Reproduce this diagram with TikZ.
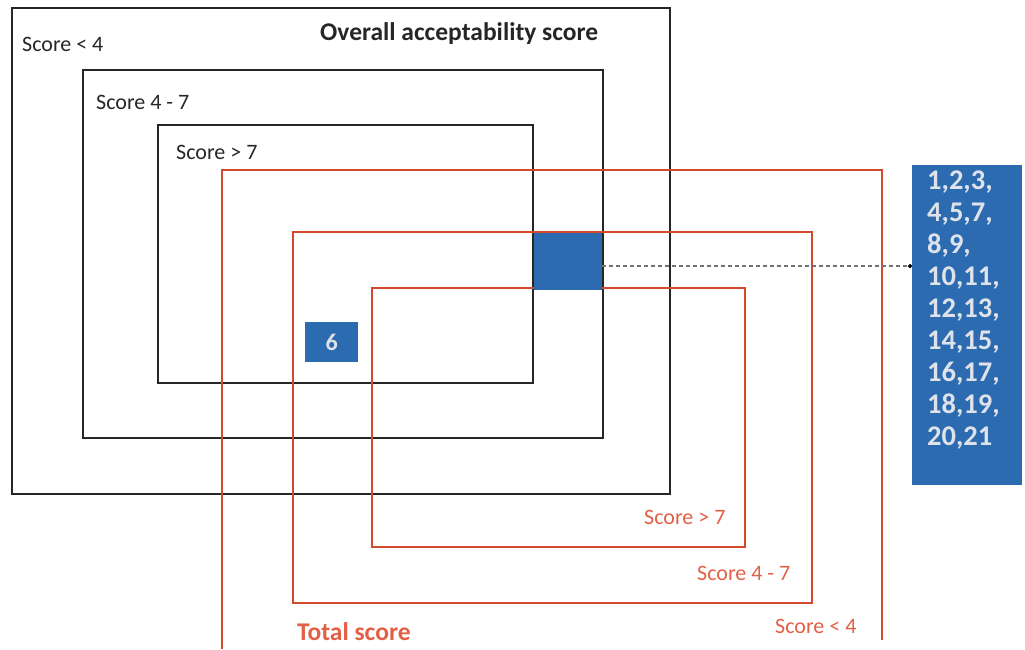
\documentclass[tikz,border=0pt]{standalone}
\usepackage{fontspec}
\setmainfont{Carlito}
\usetikzlibrary{arrows.meta}
\definecolor{frred}{RGB}{214,72,44}
\definecolor{lblred}{RGB}{226,96,70}
\definecolor{cellblue}{RGB}{44,107,176}
\definecolor{numgray}{RGB}{222,226,234}
\tikzset{
  blackframe/.style={draw=black!85, line width=1.8pt},
  redframe/.style={draw=frred, line width=1.6pt},
  blacklbl/.style={font=\fontsize{22}{24}\selectfont, text=black!85, inner sep=0pt},
  redlbl/.style={font=\fontsize{22}{24}\selectfont, text=lblred, inner sep=0pt},
  boldlbl/.style={font=\fontsize{25.5}{27}\selectfont\bfseries},
  bluecell/.style={fill=cellblue, draw=none, inner sep=0pt},
}
\begin{document}
\begin{tikzpicture}[x=1pt,y=-1pt]
\useasboundingbox (0,0) rectangle (1025,649);
% black frames
\draw[blackframe] (12,8) rectangle (670,494);
\draw[blackframe] (83,70) rectangle (603,438);
\draw[blackframe] (158,125) rectangle (533,383);
% red frames
\draw[redframe] (222,649) -- (222,170) -- (882,170) -- (882,640);
\draw[redframe] (293,232) rectangle (812,603);
\draw[redframe] (372,288) rectangle (745,547);
% blue cell
\node[bluecell, minimum width=68pt, minimum height=57pt, anchor=north west] (cell) at (534,233) {};
% six box
\node[bluecell, minimum width=53pt, minimum height=40pt, anchor=north west, text=numgray, font=\fontsize{24}{26}\selectfont\bfseries] (six) at (305,322) {6};
% list box
\node[bluecell, minimum width=110pt, minimum height=320pt, anchor=north west] (list) at (912,165) {};
\node[anchor=north west, inner sep=0pt, align=left, text=numgray, font=\fontsize{28.5}{32}\selectfont\bfseries] (nums) at (927,171) {1,2,3,\\4,5,7,\\8,9,\\10,11,\\12,13,\\14,15,\\16,17,\\18,19,\\20,21};
% dashed connector
\coordinate (dstart) at (cell.east |- 0,266);
\coordinate (dend) at (list.west |- 0,266);
\draw[black!55, line width=1.3pt, dashed, dash pattern=on 4pt off 3pt, -{Circle[length=4pt, black]}] (dstart) -- (dend);
% labels
\node[blacklbl, anchor=west] (l1) at (22,44) {Score < 4};
\node[blacklbl, anchor=west, boldlbl] (title) at (320,34) {Overall acceptability score};
\node[blacklbl, anchor=west] (l2) at (96,102) {Score 4 - 7};
\node[blacklbl, anchor=west] (l3) at (176,152) {Score > 7};
\node[redlbl, anchor=west] (r3) at (644,517) {Score > 7};
\node[redlbl, anchor=west] (r2) at (697,573) {Score 4 - 7};
\node[redlbl, anchor=west] (r1) at (775,626) {Score < 4};
\node[redlbl, anchor=west, boldlbl] (total) at (297,632) {Total score};
\end{tikzpicture}
\end{document}
